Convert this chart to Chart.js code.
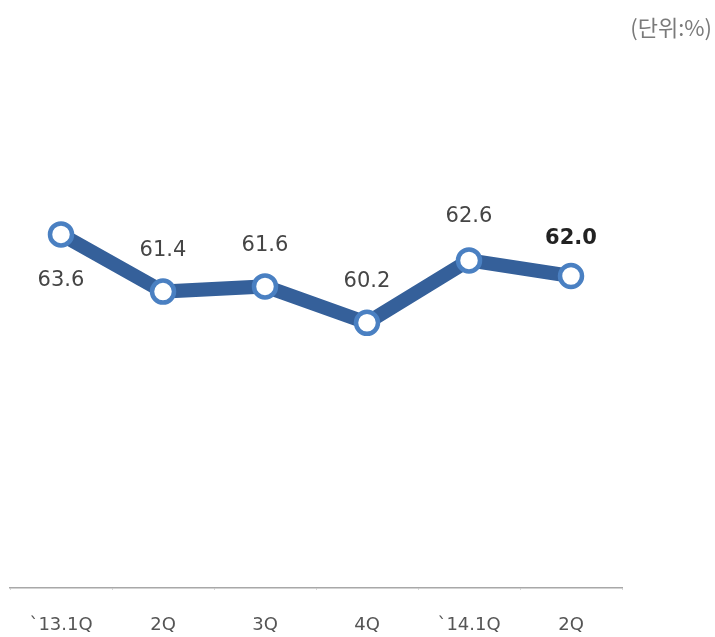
<!DOCTYPE html>
<html>
<head>
<meta charset="utf-8">
<script src="https://cdn.jsdelivr.net/npm/chart.js@4"></script>
<style>
  html, body { margin: 0; padding: 0; background: #fff; }
  #wrap { width: 715px; height: 637px; }
</style>
</head>
<body>
<div id="wrap"><canvas id="ratio" width="715" height="637"></canvas></div>
<script>
// quarterly ratio (%)
const quarters = ['`13.1Q', '2Q', '3Q', '4Q', '`14.1Q', '2Q'];
const ratios = [63.6, 61.4, 61.6, 60.2, 62.6, 62.0];
const unitLabel = '(단위:%)';

// value labels: first one sits under the point, the rest above; last is bold
const valueLabels = {
  id: 'valueLabels',
  afterDatasetsDraw(chart) {
    const ctx = chart.ctx;
    const meta = chart.getDatasetMeta(0);
    ctx.save();
    ctx.textAlign = 'center';
    ctx.textBaseline = 'middle';
    meta.data.forEach((pt, i) => {
      const last = i === ratios.length - 1;
      ctx.font = (last ? 'bold ' : '') + '21px "DejaVu Sans", sans-serif';
      ctx.fillStyle = last ? '#222' : '#454545';
      let dy = i === 0 ? 46 : -41;
      if (i === 4) dy = -44;
      if (last) dy = -37;
      ctx.fillText(ratios[i].toFixed(1), pt.x, pt.y + dy);
    });
    ctx.restore();
  }
};

const unitText = {
  id: 'unitText',
  afterDraw(chart) {
    const ctx = chart.ctx;
    ctx.save();
    ctx.font = '22px "Noto Sans CJK KR", sans-serif';
    ctx.fillStyle = '#7a7a7a';
    ctx.textAlign = 'right';
    ctx.textBaseline = 'middle';
    ctx.fillText(unitLabel, 712, 28);
    ctx.restore();
  }
};

new Chart(document.getElementById('ratio'), {
  type: 'line',
  data: {
    labels: quarters,
    datasets: [{
      data: ratios,
      borderColor: '#35609A',
      borderWidth: 14,
      pointRadius: 11,
      pointBorderWidth: 4.5,
      pointBorderColor: '#4A80C2',
      pointBackgroundColor: '#fff',
      tension: 0
    }]
  },
  options: {
    responsive: false,
    animation: false,
    layout: { autoPadding: false, padding: { top: 68, left: 10, right: 93, bottom: 0 } },
    plugins: { legend: { display: false }, tooltip: { enabled: false } },
    scales: {
      x: {
        offset: true,
        afterFit(scale) {
          scale.height = 49;
          scale.paddingLeft = 0;
          scale.paddingRight = 0;
        },
        border: { display: true, color: '#a8a8a8', width: 1.5 },
        grid: {
          offset: true,
          drawOnChartArea: false,
          drawTicks: true,
          tickLength: 2,
          color: '#d8d8d8'
        },
        ticks: {
          padding: 25,
          color: '#555',
          font: { size: 18, family: '"DejaVu Sans", sans-serif' }
        }
      },
      y: { display: false, min: 50, max: 70 }
    }
  },
  plugins: [valueLabels, unitText]
});
</script>
</body>
</html>
